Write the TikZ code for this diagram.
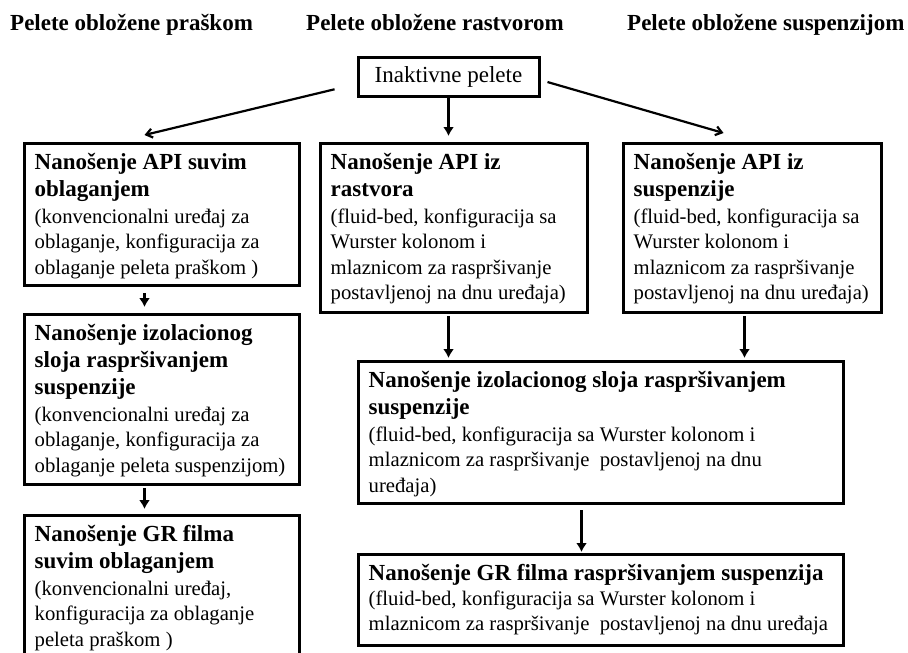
\documentclass[tikz,border=0pt]{standalone}
\usepackage{fontspec}
\setmainfont{Liberation Serif}
\usetikzlibrary{arrows.meta}

\tikzset{
  box/.style={draw, line width=3pt, inner sep=0pt, anchor=north west},
  ttl/.style={anchor=north west, inner sep=0pt, align=left,
              font=\fontsize{23}{27}\selectfont\bfseries},
  dsc/.style={anchor=north west, inner sep=0pt, align=left,
              font=\fontsize{20.7}{25.5}\selectfont},
  hdr/.style={anchor=base west, inner sep=0pt,
              font=\fontsize{23}{27}\selectfont\bfseries},
  varrow/.style={line width=3.5pt, -{Latex[length=9pt,width=11pt]}},
  darrow/.style={line width=2.2pt, -{Straight Barb[length=6pt,width=9pt]}},
}

\begin{document}
\begin{tikzpicture}[x=1pt, y=-1pt]
\useasboundingbox (0,0) rectangle (908,653);
\clip (0,0) rectangle (908,653);

% column headings
\node[hdr] (h1) at (10,30)  {Pelete obložene praškom};
\node[hdr] (h2) at (306,30) {Pelete obložene rastvorom};
\node[hdr] (h3) at (627,30) {Pelete obložene suspenzijom};

% starting material
\node[draw, line width=3pt, minimum width=181pt, minimum height=39pt,
      inner sep=0pt, font=\fontsize{23}{27}\selectfont] (inak) at (448.5,76.5)
      {Inaktivne pelete};

% left column: powder layering
\node[box, minimum width=275pt, minimum height=142pt] (a1) at (23,142) {};
\node[ttl] (a1t) at ([xshift=11.5pt,yshift=-8.6pt]a1.north west)
  {\strut Nanošenje API suvim\\\strut oblaganjem};
\node[dsc] (a1d) at (a1t.south west)
  {\strut (konvencionalni uređaj za\\\strut oblaganje, konfiguracija za\\\strut oblaganje peleta praškom )};

\node[box, minimum width=275pt, minimum height=170pt] (a2) at (23,313) {};
\node[ttl] (a2t) at ([xshift=11.5pt,yshift=-8.6pt]a2.north west)
  {\strut Nanošenje izolacionog\\\strut sloja raspršivanjem\\\strut suspenzije};
\node[dsc] (a2d) at (a2t.south west)
  {\strut (konvencionalni uređaj za\\\strut oblaganje, konfiguracija za\\\strut oblaganje peleta suspenzijom)};

\node[box, minimum width=275pt, minimum height=170pt] (a3) at (23,514) {};
\node[ttl] (a3t) at ([xshift=11.5pt,yshift=-8.6pt]a3.north west)
  {\strut Nanošenje GR filma\\\strut suvim oblaganjem};
\node[dsc] (a3d) at (a3t.south west)
  {\strut (konvencionalni uređaj,\\\strut konfiguracija za oblaganje\\\strut peleta praškom )};

% middle column: solution layering
\node[box, minimum width=267pt, minimum height=169pt] (b1) at (319,142) {};
\node[ttl] (b1t) at ([xshift=11.5pt,yshift=-8.6pt]b1.north west)
  {\strut Nanošenje API iz\\\strut rastvora};
\node[dsc] (b1d) at (b1t.south west)
  {\strut (fluid-bed, konfiguracija sa\\\strut Wurster kolonom i\\\strut mlaznicom za raspršivanje\\\strut postavljenoj na dnu uređaja)};

% right column: suspension layering
\node[box, minimum width=258pt, minimum height=169pt] (c1) at (622,142) {};
\node[ttl] (c1t) at ([xshift=11.5pt,yshift=-8.6pt]c1.north west)
  {\strut Nanošenje API iz\\\strut suspenzije};
\node[dsc] (c1d) at (c1t.south west)
  {\strut (fluid-bed, konfiguracija sa\\\strut Wurster kolonom i\\\strut mlaznicom za raspršivanje\\\strut postavljenoj na dnu uređaja)};

% shared fluid-bed steps
\node[box, minimum width=485pt, minimum height=142pt] (m) at (357,360) {};
\node[ttl] (mt) at ([xshift=11.5pt,yshift=-8.6pt]m.north west)
  {\strut Nanošenje izolacionog sloja raspršivanjem\\\strut suspenzije};
\node[dsc] (md) at (mt.south west)
  {\strut (fluid-bed, konfiguracija sa Wurster kolonom i\\\strut mlaznicom za raspršivanje~ postavljenoj na dnu\\\strut uređaja)};

\node[box, minimum width=485pt, minimum height=91pt] (g) at (357,553) {};
\node[ttl] (gt) at ([xshift=11.5pt,yshift=-8.6pt]g.north west)
  {\strut Nanošenje GR filma raspršivanjem suspenzija};
\node[dsc] (gd) at ([yshift=2pt]gt.south west)
  {\strut (fluid-bed, konfiguracija sa Wurster kolonom i\\\strut mlaznicom za raspršivanje~ postavljenoj na dnu uređaja};

% connectors
\draw[darrow, shorten <=22.6pt] ([yshift=-7.5pt]inak.west) -- ([xshift=-17.5pt,yshift=7pt]a1.north);
\draw[varrow, shorten >=6pt] (inak.south) -- (inak.south |- b1.north);
\draw[darrow, shorten <=7.3pt] ([yshift=-3.5pt]inak.east) -- ([xshift=-29pt,yshift=9pt]c1.north);

\draw[varrow, shorten <=6pt, shorten >=6pt] ([xshift=-17.5pt]a1.south) -- ([xshift=-17.5pt]a2.north);
\draw[varrow, shorten <=2pt, shorten >=5pt] ([xshift=-17.5pt]a2.south) -- ([xshift=-17.5pt]a3.north);

\draw[varrow, shorten <=2pt, shorten >=2pt] ([xshift=-5.5pt]b1.south) -- ([xshift=-5.5pt]b1.south |- m.north);
\draw[varrow, shorten <=2pt, shorten >=2pt] ([xshift=-8pt]c1.south) -- ([xshift=-8pt]c1.south |- m.north);
\draw[varrow, shorten <=5pt, shorten >=1pt] ([xshift=-19.5pt]m.south) -- ([xshift=-19.5pt]m.south |- g.north);
\end{tikzpicture}
\end{document}
